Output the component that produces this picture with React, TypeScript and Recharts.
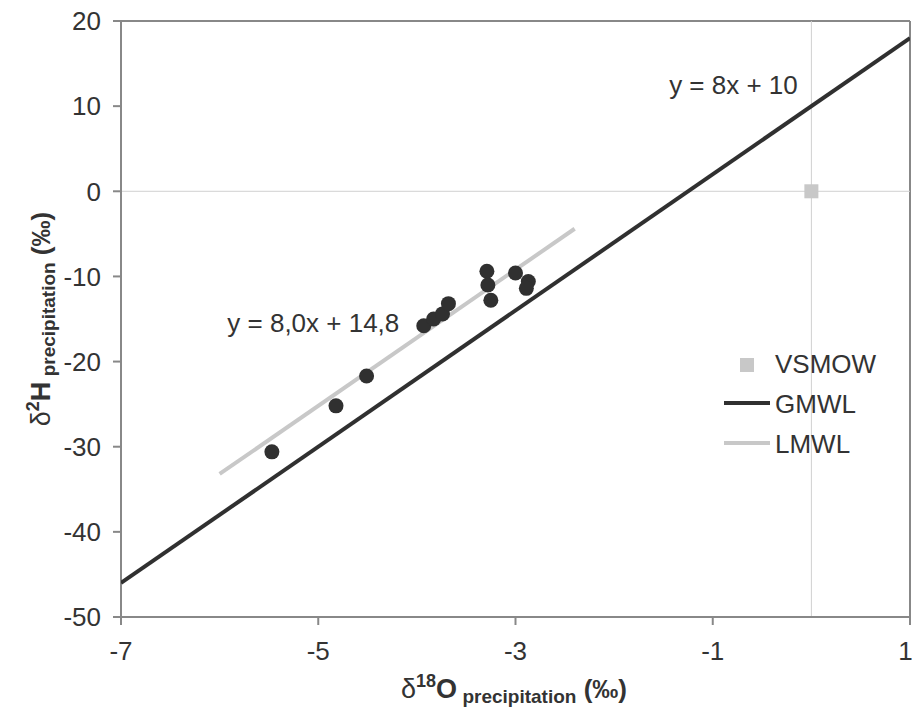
import React from 'react';
import {
  ComposedChart, Scatter, XAxis, YAxis, ReferenceLine, ReferenceDot,
} from 'recharts';

// δ18O / δ2H of precipitation samples (‰)
const sampleO18 = [-5.47, -4.82, -4.51, -3.93, -3.83, -3.74, -3.68, -3.29, -3.28, -3.25, -3.0, -2.87, -2.89];
const sampleH2 = [-30.6, -25.2, -21.7, -15.8, -15.0, -14.4, -13.2, -9.4, -11.0, -12.8, -9.6, -10.6, -11.4];

// line end points
const gmwlO18 = [-7, 1];
const gmwlH2 = [-46, 18];
const lmwlO18 = [-6, -2.4];
const lmwlH2 = [-33.2, -4.4];

const vsmowO18 = [0];
const vsmowH2 = [0];

const xTicks = [-7, -5, -3, -1, 1];
const yTicks = [-50, -40, -30, -20, -10, 0, 10, 20];

const zip = (xs: number[], ys: number[]) => xs.map((x, i) => ({ x, y: ys[i] }));

const samples = zip(sampleO18, sampleH2);
const gmwl = zip(gmwlO18, gmwlH2);
const lmwl = zip(lmwlO18, lmwlH2);
const vsmow = zip(vsmowO18, vsmowH2);

const FONT = '"Liberation Sans", Arial, sans-serif';
const TEXT = '#333';
const DARK = '#303030';
const LIGHT = '#c8c8c8';

const AxisTitle = ({ sup, main }: { sup: string; main: string }) => (
  <>
    <tspan fontSize={27} fontWeight={400}>δ</tspan>
    <tspan fontSize={18} dy={-11}>{sup}</tspan>
    <tspan fontSize={27} dy={11}>{main}</tspan>
    <tspan fontSize={19} dy={5}> precipitation</tspan>
    <tspan fontSize={26} dy={-5}> (‰)</tspan>
  </>
);

const YTitle = () => (
  <text transform="translate(50, 319) rotate(-90)" textAnchor="middle" fontFamily={FONT} fill={TEXT} fontWeight={700}>
    <AxisTitle sup="2" main="H" />
  </text>
);

const XTitle = () => (
  <text x={514} y={698} textAnchor="middle" fontFamily={FONT} fill={TEXT} fontWeight={700}>
    <AxisTitle sup="18" main="O" />
  </text>
);

const LegendBox = () => (
  <svg width={200} height={140} style={{ position: 'absolute', left: 700, top: 330, fontFamily: FONT }}>
    <rect x={40} y={28} width={14} height={14} fill={LIGHT} />
    <text x={75} y={43} fontSize={26} fill={TEXT}>VSMOW</text>
    <line x1={24} y1={73} x2={70} y2={73} stroke={DARK} strokeWidth={4} />
    <text x={75} y={83} fontSize={26} fill={TEXT}>GMWL</text>
    <line x1={24} y1={113} x2={70} y2={113} stroke={LIGHT} strokeWidth={4} />
    <text x={75} y={123} fontSize={26} fill={TEXT}>LMWL</text>
  </svg>
);

const Equation = ({ text }: { text: string }) => (props: any) => {
  const { viewBox } = props;
  return (
    <text x={viewBox.x} y={viewBox.y + 9} textAnchor="middle" fontSize={26} fontFamily={FONT} fill={TEXT}>
      {text}
    </text>
  );
};

const Dot = (p: any) => <circle cx={p.cx} cy={p.cy} r={7.5} fill={DARK} />;
const Square = (p: any) => <rect x={p.cx - 7} y={p.cy - 7} width={14} height={14} fill={LIGHT} />;

export default function App() {
  return (
    <div style={{ position: 'absolute', left: 0, top: 0, width: 912, height: 712, background: '#fff' }}>
      <ComposedChart width={912} height={712} margin={{ top: 21, right: 2, bottom: 65, left: 0 }}>
        <XAxis
          type="number" dataKey="x" domain={[-7, 1]} ticks={xTicks} allowDataOverflow height={30}
          stroke="#888" strokeWidth={2} tickSize={8} tickMargin={17}
          tick={{ fill: TEXT, fontSize: 26, fontFamily: FONT }}
          label={<XTitle />}
        />
        <YAxis
          type="number" dataKey="y" domain={[-50, 20]} ticks={yTicks} width={121} allowDataOverflow
          stroke="#888" strokeWidth={2} tickSize={8} tickMargin={12}
          tick={{ fill: TEXT, fontSize: 26, fontFamily: FONT }}
          label={<YTitle />}
        />
        <ReferenceLine y={20} stroke="#888" strokeWidth={2} />
        <ReferenceLine x={1} stroke="#888" strokeWidth={2} />
        <ReferenceLine x={0} stroke="#d0d0d0" strokeWidth={1} />
        <ReferenceLine y={0} stroke="#d0d0d0" strokeWidth={1} />
        <Scatter data={gmwl} line={{ stroke: DARK, strokeWidth: 4 }} shape={() => null} isAnimationActive={false} legendType="none" />
        <Scatter data={lmwl} line={{ stroke: LIGHT, strokeWidth: 4 }} shape={() => null} isAnimationActive={false} legendType="none" />
        <Scatter data={samples} shape={Dot} isAnimationActive={false} legendType="none" />
        <Scatter data={vsmow} shape={Square} isAnimationActive={false} legendType="none" />
        <ReferenceDot x={-0.79} y={12.5} r={0} stroke="none" label={Equation({ text: 'y = 8x + 10' })} />
        <ReferenceDot x={-5.05} y={-15.45} r={0} stroke="none" label={Equation({ text: 'y = 8,0x + 14,8' })} />
      </ComposedChart>
      <LegendBox />
    </div>
  );
}
